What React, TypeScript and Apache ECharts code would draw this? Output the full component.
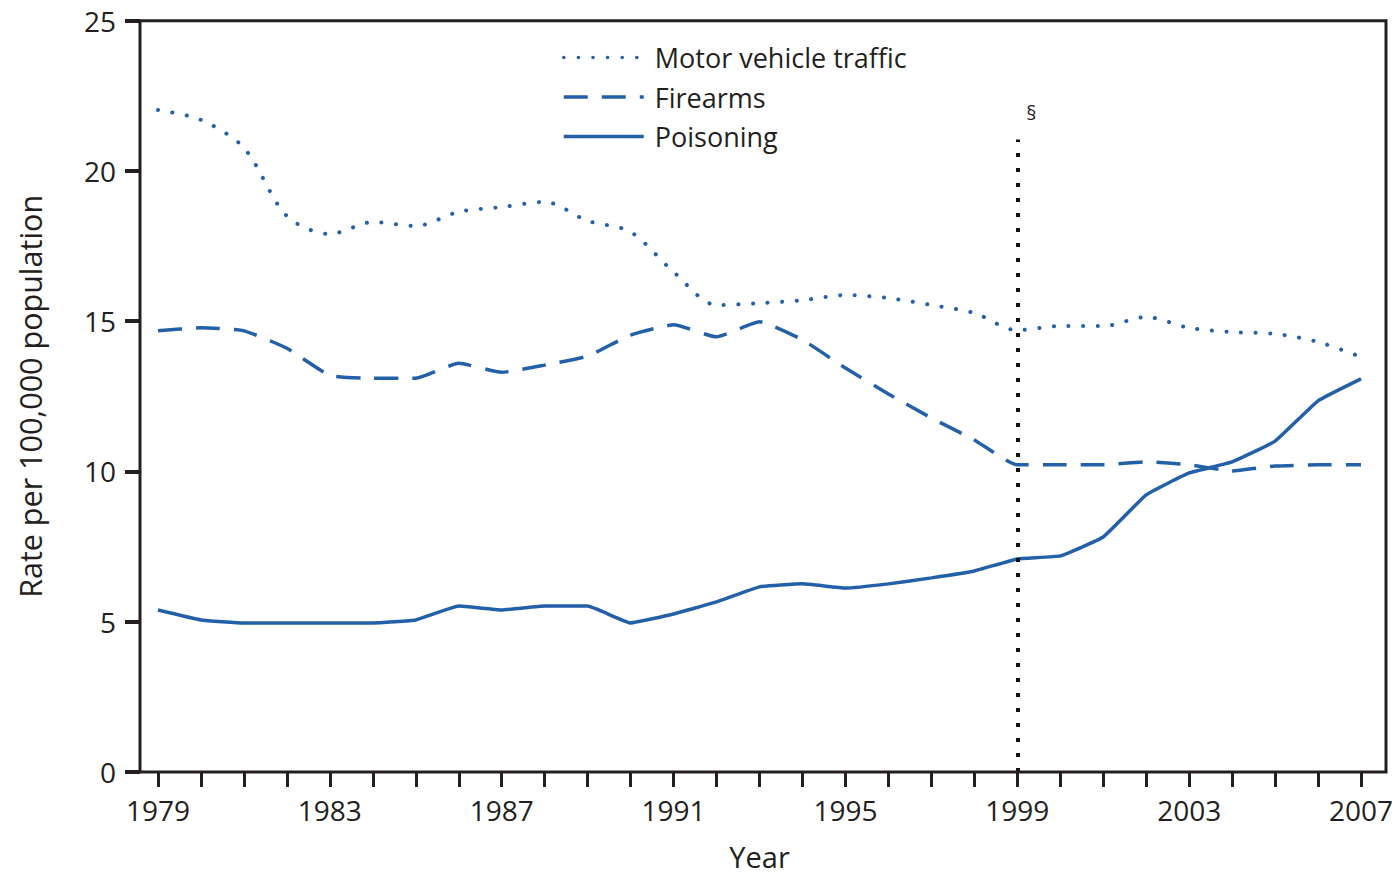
import React, { useEffect, useRef } from "react";
import * as echarts from "echarts";

const years = [
  1979, 1980, 1981, 1982, 1983, 1984, 1985, 1986, 1987, 1988, 1989, 1990, 1991, 1992,
  1993, 1994, 1995, 1996, 1997, 1998, 1999, 2000, 2001, 2002, 2003, 2004, 2005, 2006, 2007,
];

const motorVehicle = [
  22.03, 21.7, 20.77, 18.5, 17.9, 18.3, 18.17, 18.64, 18.8, 18.97, 18.34, 17.97, 16.64, 15.54,
  15.6, 15.7, 15.87, 15.77, 15.54, 15.27, 14.7, 14.84, 14.84, 15.14, 14.78, 14.64, 14.58, 14.31, 13.81,
];

const firearms = [
  14.68, 14.78, 14.68, 14.1, 13.2, 13.1, 13.1, 13.6, 13.3, 13.54, 13.84, 14.54, 14.88, 14.48,
  14.98, 14.38, 13.44, 12.58, 11.78, 11.05, 10.22, 10.22, 10.22, 10.32, 10.22, 10.02, 10.18, 10.22, 10.22,
];

const poisoning = [
  5.39, 5.06, 4.96, 4.96, 4.96, 4.96, 5.06, 5.52, 5.39, 5.52, 5.52, 4.96, 5.26, 5.66,
  6.16, 6.26, 6.12, 6.26, 6.46, 6.69, 7.09, 7.19, 7.82, 9.22, 9.95, 10.32, 11.01, 12.35, 13.08,
];

const labeledYears = [1979, 1983, 1987, 1991, 1995, 1999, 2003, 2007];
const markerYear = 1999;
const markerTop = 21.05;

const FONT = "Open Sans";
const TEXT = "#231f20";
const BLUE = "#2360a8";

export default function App() {
  const ref = useRef<HTMLDivElement>(null);

  useEffect(() => {
    if (!ref.current) return;
    const chart = echarts.init(ref.current, null, { renderer: "svg" });
    const pair = (arr: number[]) => arr.map((v, i) => [years[i], v]);

    chart.setOption({
      animation: false,
      backgroundColor: "#ffffff",
      textStyle: { fontFamily: FONT, color: TEXT },
      grid: {
        left: 158,
        right: 38,
        top: 20.7,
        bottom: 106,
        containLabel: false,
        outerBoundsMode: "none",
      },
      legend: {
        orient: "vertical",
        left: 557,
        top: 39,
        itemWidth: 80,
        itemHeight: 20,
        itemGap: 12.5,
        itemStyle: { opacity: 0 },
        lineStyle: { width: 3.5 },
        textStyle: { fontFamily: FONT, fontSize: 27, color: TEXT, padding: [0, 0, 0, 6] },
        data: ["Motor vehicle traffic", "Firearms", "Poisoning"],
      },
      xAxis: {
        type: "value",
        min: 1979,
        max: 2007,
        interval: 1,
        name: "Year",
        nameLocation: "middle",
        nameGap: 69,
        nameTextStyle: { fontFamily: FONT, fontSize: 29, lineHeight: 30, color: TEXT },
        axisLine: { show: false },
        axisTick: { show: true, length: 15, lineStyle: { color: TEXT, width: 3 } },
        splitLine: { show: false },
        axisLabel: {
          margin: 24,
          fontFamily: FONT,
          fontSize: 28,
          color: TEXT,
          formatter: (v: number) => (labeledYears.includes(v) ? String(v) : ""),
        },
      },
      yAxis: {
        type: "value",
        min: 0,
        max: 25,
        interval: 5,
        offset: 18,
        name: "Rate per 100,000 population",
        nameLocation: "middle",
        nameGap: 95,
        nameTextStyle: { fontFamily: FONT, fontSize: 30.5, color: TEXT },
        axisLine: { show: false },
        axisTick: { show: true, length: 15, lineStyle: { color: TEXT, width: 4 } },
        splitLine: { show: false },
        axisLabel: { margin: 24, fontFamily: FONT, fontSize: 28, color: TEXT },
      },
      graphic: [
        {
          type: "rect",
          shape: { x: 140, y: 20.7, width: 1246, height: 751.3 },
          style: { fill: "none", stroke: TEXT, lineWidth: 3 },
          silent: true,
          z: 10,
        },
      ],
      series: [
        {
          name: "Motor vehicle traffic",
          type: "line",
          data: pair(motorVehicle),
          smooth: 0.3,
          showSymbol: false,
          symbol: "none",
          color: BLUE,
          lineStyle: { color: BLUE, width: 4, type: [0.1, 14.5], cap: "round" },
          markLine: {
            silent: true,
            symbol: "none",
            lineStyle: { color: "#111111", width: 4, type: [4, 11], cap: "butt" },
            label: {
              show: true,
              position: "end",
              formatter: "§",
              fontFamily: FONT,
              fontSize: 20,
              color: TEXT,
              offset: [14, -12],
            },
            data: [
              [
                { coord: [markerYear, 0] },
                { coord: [markerYear, markerTop] },
              ],
            ],
          },
        },
        {
          name: "Firearms",
          type: "line",
          data: pair(firearms),
          smooth: 0.15,
          showSymbol: false,
          symbol: "none",
          color: BLUE,
          lineStyle: { color: BLUE, width: 3.5, type: [24, 14] },
        },
        {
          name: "Poisoning",
          type: "line",
          data: pair(poisoning),
          smooth: 0.1,
          showSymbol: false,
          symbol: "none",
          color: BLUE,
          lineStyle: { color: BLUE, width: 3.5, type: "solid" },
        },
      ],
    });

    return () => chart.dispose();
  }, []);

  return (
    <div
      ref={ref}
      style={{ position: "fixed", left: 0, top: 0, width: 1399, height: 878, background: "#fff" }}
    />
  );
}
